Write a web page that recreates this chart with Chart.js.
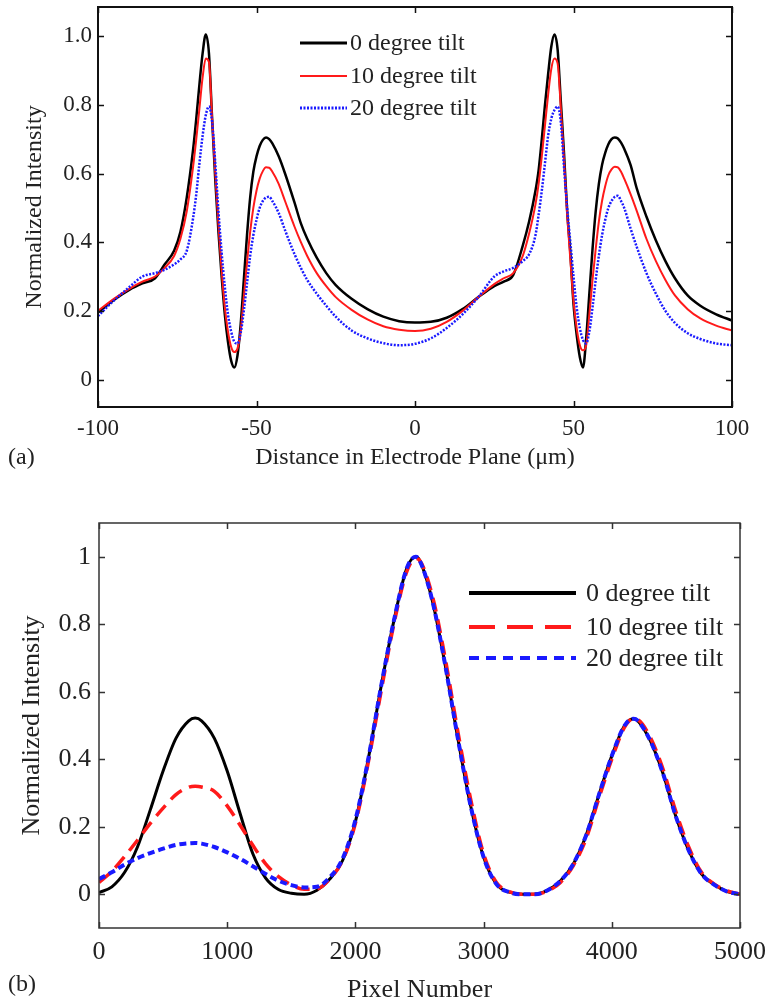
<!DOCTYPE html>
<html>
<head>
<meta charset="utf-8">
<script src="https://cdn.jsdelivr.net/npm/chart.js@4/dist/chart.umd.min.js"></script>
<style>
  html, body { margin: 0; padding: 0; background: #fff; }
  #wrap { position: relative; width: 768px; height: 1006px; overflow: hidden; }
  canvas { position: absolute; left: 0; }
  #ca { top: 0; }
  #cb { top: 480px; }
</style>
</head>
<body>
<div id="wrap">
  <canvas id="ca" width="768" height="480"></canvas>
  <canvas id="cb" width="768" height="526"></canvas>
</div>
<script>
// ---------- Panel (a) data ----------
const seriesLabels = ['0 degree tilt', '10 degree tilt', '20 degree tilt'];

const xA = [-100,-95,-90,-86,-82,-79,-76,-74,-72,-70,-69,-68,-67,-66,-65,-64,-63,-62,-61,-60,-59,-58,-57,-56,-55,-54,-53,-52,-51,-50,-49,-48,-47,-46,-45,-43,-41,-38,-36,-34,-31,-28,-25,-20,-15,-10,-5,0,5,10,15,20,25,28,31,34,36,38,39,40,41,42,43,44,45,46,47,48,49,50,51,52,53,54,55,56,57,58,59,60,61,62,63,64,65,66,68,70,73,76,79,82,86,90,95,100];

const tilt0A = [0.195,0.232,0.262,0.28,0.295,0.335,0.375,0.43,0.53,0.67,0.76,0.86,0.95,1.005,0.95,0.76,0.58,0.43,0.30,0.19,0.11,0.055,0.035,0.07,0.16,0.29,0.42,0.53,0.605,0.65,0.68,0.698,0.705,0.70,0.688,0.65,0.60,0.515,0.455,0.41,0.355,0.31,0.275,0.235,0.205,0.183,0.17,0.166,0.168,0.18,0.205,0.24,0.272,0.285,0.305,0.39,0.46,0.55,0.61,0.70,0.80,0.89,0.97,1.005,0.96,0.81,0.66,0.49,0.37,0.22,0.13,0.065,0.035,0.12,0.25,0.38,0.49,0.57,0.625,0.66,0.685,0.70,0.705,0.702,0.69,0.672,0.625,0.555,0.475,0.405,0.345,0.295,0.245,0.215,0.19,0.172];

const tilt10A = [0.2,0.235,0.265,0.285,0.30,0.325,0.36,0.41,0.49,0.62,0.70,0.79,0.88,0.935,0.925,0.76,0.60,0.45,0.32,0.21,0.14,0.095,0.08,0.09,0.14,0.24,0.34,0.43,0.50,0.55,0.585,0.607,0.618,0.617,0.605,0.57,0.52,0.445,0.40,0.36,0.31,0.272,0.24,0.203,0.175,0.155,0.145,0.141,0.148,0.168,0.20,0.24,0.278,0.295,0.31,0.36,0.425,0.51,0.57,0.65,0.74,0.83,0.905,0.935,0.92,0.79,0.64,0.48,0.35,0.23,0.15,0.10,0.085,0.10,0.19,0.29,0.38,0.46,0.52,0.563,0.595,0.612,0.62,0.618,0.605,0.585,0.54,0.49,0.41,0.345,0.29,0.245,0.205,0.178,0.157,0.143];

const tilt20A = [0.185,0.23,0.27,0.30,0.31,0.32,0.335,0.35,0.375,0.47,0.54,0.63,0.71,0.77,0.795,0.75,0.63,0.49,0.37,0.27,0.19,0.14,0.11,0.105,0.135,0.20,0.28,0.36,0.42,0.465,0.50,0.52,0.53,0.532,0.52,0.485,0.435,0.365,0.325,0.29,0.25,0.215,0.183,0.143,0.12,0.106,0.10,0.104,0.12,0.15,0.19,0.24,0.30,0.315,0.325,0.345,0.365,0.42,0.48,0.55,0.63,0.71,0.76,0.785,0.795,0.75,0.62,0.50,0.40,0.30,0.21,0.15,0.115,0.105,0.14,0.21,0.29,0.36,0.42,0.465,0.50,0.52,0.532,0.535,0.52,0.50,0.44,0.385,0.31,0.25,0.20,0.165,0.135,0.118,0.105,0.10];

const xTicksA = [-100, -50, 0, 50, 100];
const xTickLabelsA = ['-100', '-50', '0', '50', '100'];
const yTicksA = [0, 0.2, 0.4, 0.6, 0.8, 1.0];
const yTickLabelsA = ['0', '0.2', '0.4', '0.6', '0.8', '1.0'];

// ---------- Panel (b) data ----------
const xB = [0,100,200,300,400,500,600,700,750,800,900,1000,1100,1200,1300,1400,1500,1600,1700,1800,1900,2000,2100,2200,2300,2400,2470,2500,2600,2700,2800,2900,3000,3100,3200,3300,3400,3500,3600,3700,3800,3900,4000,4100,4170,4200,4300,4400,4500,4600,4700,4800,4900,5000];

const tilt0B = [0.005,0.022,0.065,0.14,0.25,0.365,0.462,0.514,0.522,0.514,0.462,0.365,0.24,0.12,0.048,0.014,0.003,0.0,0.012,0.045,0.10,0.215,0.40,0.615,0.81,0.965,1.0,0.99,0.87,0.68,0.46,0.26,0.11,0.03,0.006,0.0,0.0,0.012,0.04,0.09,0.175,0.295,0.41,0.5,0.52,0.515,0.455,0.357,0.23,0.13,0.06,0.028,0.008,0.0];

const tilt10B = [0.035,0.068,0.112,0.16,0.21,0.255,0.295,0.317,0.32,0.318,0.305,0.262,0.205,0.145,0.09,0.052,0.028,0.015,0.016,0.045,0.10,0.21,0.39,0.60,0.80,0.955,0.995,0.99,0.885,0.70,0.48,0.28,0.12,0.035,0.008,0.0,0.0,0.01,0.035,0.085,0.165,0.285,0.40,0.495,0.52,0.518,0.465,0.37,0.245,0.14,0.065,0.03,0.01,0.0];

const tilt20B = [0.045,0.065,0.088,0.107,0.122,0.135,0.146,0.151,0.152,0.15,0.14,0.124,0.105,0.083,0.06,0.04,0.027,0.02,0.022,0.05,0.105,0.22,0.40,0.615,0.81,0.965,1.0,0.99,0.87,0.68,0.46,0.26,0.11,0.03,0.006,0.0,0.0,0.012,0.04,0.09,0.175,0.295,0.41,0.5,0.52,0.515,0.455,0.357,0.23,0.13,0.06,0.028,0.008,0.0];

const xTicksB = [0, 1000, 2000, 3000, 4000, 5000];
const xTickLabelsB = ['0', '1000', '2000', '3000', '4000', '5000'];
const yTicksB = [0, 0.2, 0.4, 0.6, 0.8, 1];
const yTickLabelsB = ['0', '0.2', '0.4', '0.6', '0.8', '1'];

// ---------- helpers ----------
const SERIF = "'Liberation Serif', 'Times New Roman', serif";
const TXT = '#222';
const pts = (xs, ys) => xs.map((x, i) => ({ x: x, y: ys[i] }));
const labelFor = (vals, labels) => (v) => {
  const i = vals.findIndex(t => Math.abs(t - v) < 1e-9);
  return i >= 0 ? labels[i] : '';
};

const framePlugin = {
  id: 'frameLegend',
  afterDraw(chart, args, o) {
    const ctx = chart.ctx;
    const a = chart.chartArea;
    const xs = chart.scales.x, ys = chart.scales.y;
    ctx.save();
    ctx.setLineDash([]);
    ctx.strokeStyle = o.frameColor;
    ctx.lineWidth = o.frameWidth;
    ctx.strokeRect(a.left, a.top, a.right - a.left, a.bottom - a.top);
    ctx.lineWidth = o.tickWidth;
    ctx.beginPath();
    const L = o.tickLen;
    xs.ticks.forEach(t => {
      const p = Math.round(xs.getPixelForValue(t.value)) + 0.5;
      ctx.moveTo(p, a.bottom); ctx.lineTo(p, a.bottom - L);
      ctx.moveTo(p, a.top); ctx.lineTo(p, a.top + L);
    });
    ys.ticks.forEach(t => {
      const p = Math.round(ys.getPixelForValue(t.value)) + 0.5;
      ctx.moveTo(a.left, p); ctx.lineTo(a.left + L, p);
      ctx.moveTo(a.right, p); ctx.lineTo(a.right - L, p);
    });
    ctx.stroke();

    // legend
    const lg = o.legend;
    chart.data.datasets.forEach((ds, i) => {
      const yy = lg.rows[i];
      ctx.strokeStyle = ds.borderColor;
      ctx.lineWidth = lg.widths[i];
      ctx.setLineDash(lg.dashes[i]);
      ctx.beginPath();
      ctx.moveTo(lg.x0, yy); ctx.lineTo(lg.x1, yy);
      ctx.stroke();
      ctx.setLineDash([]);
      ctx.fillStyle = TXT;
      ctx.font = lg.font;
      ctx.textAlign = 'left';
      ctx.textBaseline = 'middle';
      ctx.fillText(ds.label, lg.tx, yy + 1);
    });

    // panel tag
    ctx.fillStyle = TXT;
    ctx.font = o.tag.font;
    ctx.textAlign = 'left';
    ctx.textBaseline = 'middle';
    ctx.fillText(o.tag.text, o.tag.x, o.tag.y);
    ctx.restore();
  }
};

function makeChart(id, cfg) {
  return new Chart(document.getElementById(id), {
    type: 'line',
    data: {
      datasets: [
        { label: seriesLabels[0], data: pts(cfg.x, cfg.s0), borderColor: '#000000', borderWidth: cfg.w[0], borderDash: cfg.d[0], order: 3 },
        { label: seriesLabels[1], data: pts(cfg.x, cfg.s1), borderColor: '#ff1a1a', borderWidth: cfg.w[1], borderDash: cfg.d[1], order: 2 },
        { label: seriesLabels[2], data: pts(cfg.x, cfg.s2), borderColor: '#1a1aff', borderWidth: cfg.w[2], borderDash: cfg.d[2], order: 1 }
      ]
    },
    options: {
      responsive: false,
      animation: false,
      devicePixelRatio: 1,
      layout: { padding: cfg.pad },
      elements: {
        point: { radius: 0, hoverRadius: 0 },
        line: { cubicInterpolationMode: 'monotone', fill: false, borderCapStyle: 'butt', borderJoinStyle: 'round' }
      },
      plugins: {
        legend: { display: false },
        tooltip: { enabled: false },
        frameLegend: cfg.frame
      },
      scales: {
        x: {
          type: 'linear', min: cfg.xmin, max: cfg.xmax,
          afterBuildTicks: s => { s.ticks = cfg.xt.map(v => ({ value: v })); },
          afterFit: s => { s.height = cfg.xh; s.paddingLeft = 0; s.paddingRight = 0; },
          grid: { display: false, drawTicks: false },
          border: { display: false },
          ticks: { autoSkip: false, maxRotation: 0, padding: cfg.xpad, color: TXT, font: { family: SERIF, size: cfg.tickSize }, callback: labelFor(cfg.xt, cfg.xl) },
          title: { display: true, text: cfg.xTitle, color: TXT, font: { family: SERIF, size: cfg.titleSize, lineHeight: 1.2 }, padding: { top: 0, bottom: cfg.xTitlePad } }
        },
        y: {
          type: 'linear', min: cfg.ymin, max: cfg.ymax,
          afterBuildTicks: s => { s.ticks = cfg.yt.map(v => ({ value: v })); },
          afterFit: s => { s.width = cfg.yw; s.paddingTop = 0; s.paddingBottom = 0; },
          grid: { display: false, drawTicks: false },
          border: { display: false },
          ticks: { autoSkip: false, padding: cfg.ypad, color: TXT, font: { family: SERIF, size: cfg.tickSize }, callback: labelFor(cfg.yt, cfg.yl) },
          title: { display: true, text: 'Normalized Intensity', color: TXT, font: { family: SERIF, size: cfg.titleSize, lineHeight: 1.2 }, padding: { top: cfg.yTitlePad, bottom: 0 } }
        }
      }
    },
    plugins: [framePlugin]
  });
}

// Panel (a): plot box 98..732 x 7..407
makeChart('ca', {
  x: xA, s0: tilt0A, s1: tilt10A, s2: tilt20A,
  w: [2.5, 2, 2.5], d: [[], [], [2, 1.5]],
  pad: { left: 0, top: 7, right: 36, bottom: 0 },
  xmin: -100, xmax: 100, ymin: -0.08, ymax: 1.085,
  xt: xTicksA, xl: xTickLabelsA, yt: yTicksA, yl: yTickLabelsA,
  xh: 73, yw: 98, xpad: 8, ypad: 6,
  tickSize: 23, titleSize: 24, xTitlePad: 8, yTitlePad: 20,
  xTitle: 'Distance in Electrode Plane (\u03bcm)',
  frame: {
    frameColor: '#111', frameWidth: 2, tickWidth: 1.5, tickLen: 6,
    legend: { x0: 300, x1: 347, tx: 350, rows: [43, 76, 108], widths: [3, 2, 3], dashes: [[], [], [2, 1.5]], font: '24px ' + SERIF },
    tag: { text: '(a)', x: 8, y: 458, font: '24px ' + SERIF }
  }
});

// Panel (b): plot box 99..740 x 43..448 (canvas coords)
makeChart('cb', {
  x: xB, s0: tilt0B, s1: tilt10B, s2: tilt20B,
  w: [3, 3.5, 4], d: [[], [14, 8], [7, 4]],
  pad: { left: 0, top: 43, right: 28, bottom: 0 },
  xmin: 0, xmax: 5000, ymin: -0.1, ymax: 1.1,
  xt: xTicksB, xl: xTickLabelsB, yt: yTicksB, yl: yTickLabelsB,
  xh: 78, yw: 99, xpad: 9, ypad: 8,
  tickSize: 26, titleSize: 26, xTitlePad: 0, yTitlePad: 17,
  xTitle: 'Pixel Number',
  frame: {
    frameColor: '#333', frameWidth: 1.5, tickWidth: 1.5, tickLen: 6,
    legend: { x0: 469, x1: 576, tx: 586, rows: [113, 147, 178], widths: [4, 4, 4], dashes: [[], [26, 12], [10, 7]], font: '26px ' + SERIF },
    tag: { text: '(b)', x: 8, y: 505, font: '24px ' + SERIF }
  }
});
</script>
</body>
</html>
